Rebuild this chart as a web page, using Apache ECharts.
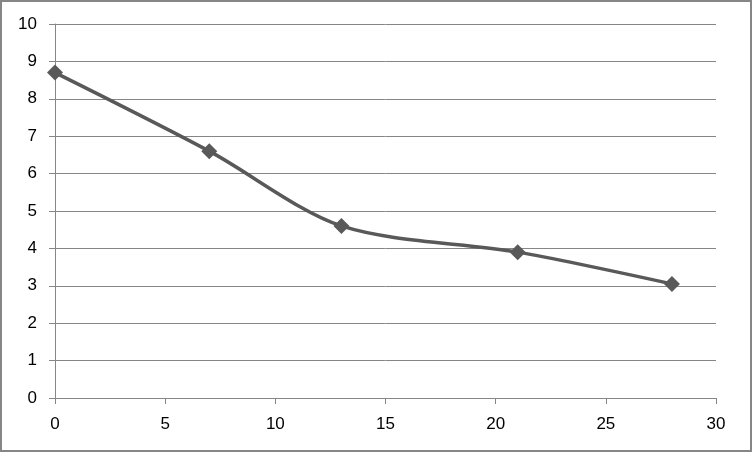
<!DOCTYPE html>
<html><head><meta charset="utf-8">
<script src="https://cdn.jsdelivr.net/npm/echarts@6/dist/echarts.min.js"></script>
<style>
html,body{margin:0;padding:0;background:#fff;}
#c{width:752px;height:452px;box-sizing:border-box;border:2px solid #868686;}
</style></head><body>
<div id="c"></div>
<script>
const xValues = [0, 7, 13, 21, 28];
const yValues = [8.7, 6.6, 4.6, 3.9, 3.05];

const chart = echarts.init(document.getElementById('c'));
const gray = '#868686';
chart.setOption({
  animation: false,
  grid: {left: 53, right: 34, top: 22, bottom: 52},
  xAxis: {
    type: 'value', min: 0, max: 30, interval: 5,
    axisLine: {show: true, lineStyle: {color: gray, width: 1}},
    axisTick: {show: true, length: 6, lineStyle: {color: gray}},
    splitLine: {show: false},
    axisLabel: {color: '#000', fontSize: 17, fontFamily: 'Liberation Sans, Arial', margin: 18}
  },
  yAxis: {
    type: 'value', min: 0, max: 10, interval: 1,
    axisLine: {show: true, lineStyle: {color: gray, width: 1}},
    axisTick: {show: true, length: 6, inside: false, lineStyle: {color: gray}},
    splitLine: {show: true, lineStyle: {color: gray, width: 1}},
    axisLabel: {color: '#000', fontSize: 17, fontFamily: 'Liberation Sans, Arial', margin: 18}
  },
  series: [{
    type: 'line',
    data: xValues.map((x, i) => [x, yValues[i]]),
    smooth: 0.3,
    symbol: 'diamond',
    symbolSize: 16,
    lineStyle: {color: '#595959', width: 3.5},
    itemStyle: {color: '#595959'}
  }]
});
</script>
</body></html>
